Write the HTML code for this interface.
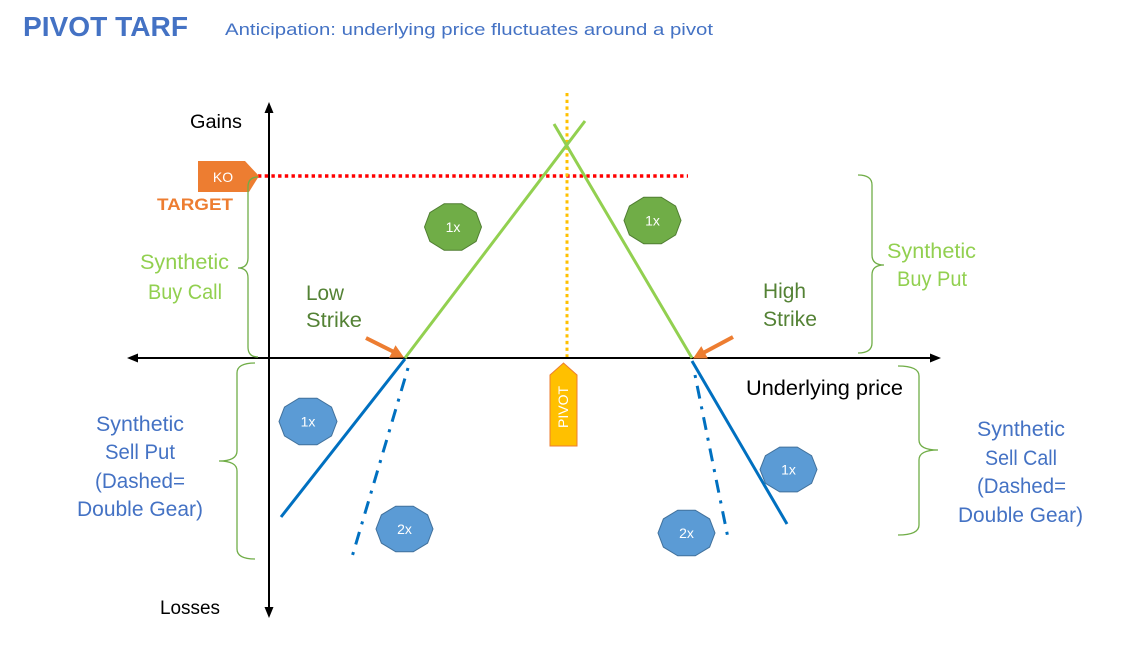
<!DOCTYPE html>
<html><head><meta charset="utf-8"><style>
html,body{margin:0;padding:0;background:#fff;}
svg{display:block;}
text{font-family:"Liberation Sans",sans-serif;}
</style></head><body>
<svg width="1127" height="659" viewBox="0 0 1127 659" xmlns="http://www.w3.org/2000/svg">
<rect width="1127" height="659" fill="#fff"/>
<!-- Title -->
<text x="23" y="36" font-size="28" font-weight="bold" fill="#4472C4" textLength="165" lengthAdjust="spacingAndGlyphs">PIVOT TARF</text>
<text x="225" y="35" font-size="17" fill="#4472C4" textLength="488" lengthAdjust="spacingAndGlyphs">Anticipation: underlying price fluctuates around a pivot</text>

<!-- Axes -->
<line x1="269" y1="112" x2="269" y2="608" stroke="#000" stroke-width="2"/>
<polygon points="269,102 264.5,113 273.5,113" fill="#000"/>
<polygon points="269,618 264.5,607 273.5,607" fill="#000"/>
<line x1="137" y1="358" x2="931" y2="358" stroke="#000" stroke-width="2"/>
<polygon points="127,358 138,353.5 138,362.5" fill="#000"/>
<polygon points="941,358 930,353.5 930,362.5" fill="#000"/>

<text x="190" y="128" font-size="19" fill="#000" textLength="52" lengthAdjust="spacingAndGlyphs">Gains</text>
<text x="160" y="614" font-size="19" fill="#000" textLength="60" lengthAdjust="spacingAndGlyphs">Losses</text>
<text x="746" y="395" font-size="21" fill="#000" textLength="157" lengthAdjust="spacingAndGlyphs">Underlying price</text>

<!-- Red dotted KO line -->
<line x1="258" y1="176" x2="688" y2="176" stroke="#FF0000" stroke-width="3.5" stroke-dasharray="3.4 3.3"/>

<!-- Pivot dotted line -->
<line x1="567" y1="93" x2="567" y2="357" stroke="#FFC000" stroke-width="3" stroke-dasharray="3.3 3.4"/>

<!-- KO tag -->
<polygon points="198,161 245,161 259,176 249,192 198,192" fill="#ED7D31"/>
<text x="223" y="182" font-size="14" fill="#fff" text-anchor="middle">KO</text>
<text x="157" y="210" font-size="17" font-weight="bold" fill="#ED7D31" textLength="76" lengthAdjust="spacingAndGlyphs">TARGET</text>

<!-- Green payoff lines -->
<line x1="405" y1="358" x2="585" y2="121" stroke="#92D050" stroke-width="3"/>
<line x1="554" y1="124" x2="692" y2="358" stroke="#92D050" stroke-width="3"/>

<!-- Blue lines -->
<line x1="405" y1="359" x2="281" y2="517" stroke="#0070C0" stroke-width="3"/>
<line x1="408" y1="368" x2="352" y2="557" stroke="#0070C0" stroke-width="3" stroke-dasharray="3 8 13 8"/>
<line x1="692" y1="361" x2="787" y2="524" stroke="#0070C0" stroke-width="3"/>
<line x1="695" y1="375" x2="728" y2="538" stroke="#0070C0" stroke-width="3" stroke-dasharray="3 8 13 8"/>

<!-- Orange arrows -->
<line x1="366" y1="338" x2="393" y2="351.5" stroke="#ED7D31" stroke-width="4"/>
<polygon points="404,357.5 389.1,357.7 395.5,345.3" fill="#ED7D31"/>
<line x1="733" y1="337" x2="704" y2="352.5" stroke="#ED7D31" stroke-width="4"/>
<polygon points="693,358.5 701.3,346.1 707.9,358.5" fill="#ED7D31"/>

<!-- Pivot tag -->
<polygon points="550,375 563.5,363 577,375 577,446 550,446" fill="#FFC000" stroke="#ED7D31" stroke-width="1"/>
<text transform="translate(568,407) rotate(-90)" font-size="14" fill="#fff" text-anchor="middle">PIVOT</text>

<!-- Green decagons -->
<polygon points="481.5,227 476.1,241.4 461.8,250.3 444.2,250.3 429.9,241.4 424.5,227 429.9,212.6 444.2,203.7 461.8,203.7 476.1,212.6" fill="#70AD47" stroke="#507E32" stroke-width="1"/>
<text x="453" y="232" font-size="14" fill="#fff" text-anchor="middle">1x</text>
<polygon points="681,220.5 675.6,234.9 661.3,243.8 643.7,243.8 629.4,234.9 624,220.5 629.4,206.1 643.7,197.2 661.3,197.2 675.6,206.1" fill="#70AD47" stroke="#507E32" stroke-width="1"/>
<text x="652.5" y="225.5" font-size="14" fill="#fff" text-anchor="middle">1x</text>

<!-- Blue decagons -->
<polygon points="337,421.5 331.5,435.9 317,444.8 299,444.8 284.5,435.9 279,421.5 284.5,407.1 299,398.2 317,398.2 331.5,407.1" fill="#5B9BD5" stroke="#41719C" stroke-width="1"/>
<text x="308" y="426.5" font-size="14" fill="#fff" text-anchor="middle">1x</text>
<polygon points="433,529 427.6,543.1 413.3,551.8 395.7,551.8 381.4,543.1 376,529 381.4,514.9 395.7,506.2 413.3,506.2 427.6,514.9" fill="#5B9BD5" stroke="#41719C" stroke-width="1"/>
<text x="404.5" y="534" font-size="14" fill="#fff" text-anchor="middle">2x</text>
<polygon points="817,469.5 811.6,483.3 797.3,491.9 779.7,491.9 765.4,483.3 760,469.5 765.4,455.7 779.7,447.1 797.3,447.1 811.6,455.7" fill="#5B9BD5" stroke="#41719C" stroke-width="1"/>
<text x="788.5" y="474.5" font-size="14" fill="#fff" text-anchor="middle">1x</text>
<polygon points="715,533 709.6,547.1 695.3,555.8 677.7,555.8 663.4,547.1 658,533 663.4,518.9 677.7,510.2 695.3,510.2 709.6,518.9" fill="#5B9BD5" stroke="#41719C" stroke-width="1"/>
<text x="686.5" y="538" font-size="14" fill="#fff" text-anchor="middle">2x</text>

<!-- Brackets -->
<g fill="none" stroke="#70AD47" stroke-width="1.3">
<path d="M258,177 Q248,177 248,187 L248,258 Q248,268 238,268 Q248,268 248,278 L248,347 Q248,357 258,357"/>
<path d="M255,363 Q237,363 237,373 L237,451 Q237,461 219,461 Q237,461 237,471 L237,549 Q237,559 255,559"/>
<path d="M858,175 Q872,175 872,185 L872,255 Q872,265 884,265 Q872,265 872,275 L872,343 Q872,353 858,353"/>
<path d="M898,366 Q919,366 919,376 L919,440 Q919,450 938,450 Q919,450 919,460 L919,525 Q919,535 898,535"/>
</g>

<!-- Labels green -->
<text x="140" y="269" font-size="21" fill="#92D050" textLength="89" lengthAdjust="spacingAndGlyphs">Synthetic</text>
<text x="148" y="299" font-size="21" fill="#92D050" textLength="74" lengthAdjust="spacingAndGlyphs">Buy Call</text>
<text x="887" y="258" font-size="21" fill="#92D050" textLength="89" lengthAdjust="spacingAndGlyphs">Synthetic</text>
<text x="897" y="286" font-size="21" fill="#92D050" textLength="70" lengthAdjust="spacingAndGlyphs">Buy Put</text>

<text x="306" y="300" font-size="21" fill="#548235" textLength="38" lengthAdjust="spacingAndGlyphs">Low</text>
<text x="306" y="327" font-size="21" fill="#548235" textLength="56" lengthAdjust="spacingAndGlyphs">Strike</text>
<text x="763" y="298" font-size="21" fill="#548235" textLength="43" lengthAdjust="spacingAndGlyphs">High</text>
<text x="763" y="326" font-size="21" fill="#548235" textLength="54" lengthAdjust="spacingAndGlyphs">Strike</text>

<!-- Labels blue -->
<text x="96" y="431" font-size="21" fill="#4472C4" textLength="88" lengthAdjust="spacingAndGlyphs">Synthetic</text>
<text x="105" y="459" font-size="21" fill="#4472C4" textLength="70" lengthAdjust="spacingAndGlyphs">Sell Put</text>
<text x="95" y="488" font-size="21" fill="#4472C4" textLength="90" lengthAdjust="spacingAndGlyphs">(Dashed=</text>
<text x="77" y="516" font-size="21" fill="#4472C4" textLength="126" lengthAdjust="spacingAndGlyphs">Double Gear)</text>

<text x="977" y="436" font-size="21" fill="#4472C4" textLength="88" lengthAdjust="spacingAndGlyphs">Synthetic</text>
<text x="985" y="465" font-size="21" fill="#4472C4" textLength="72" lengthAdjust="spacingAndGlyphs">Sell Call</text>
<text x="977" y="493" font-size="21" fill="#4472C4" textLength="89" lengthAdjust="spacingAndGlyphs">(Dashed=</text>
<text x="958" y="522" font-size="21" fill="#4472C4" textLength="125" lengthAdjust="spacingAndGlyphs">Double Gear)</text>
</svg>
</body></html>
